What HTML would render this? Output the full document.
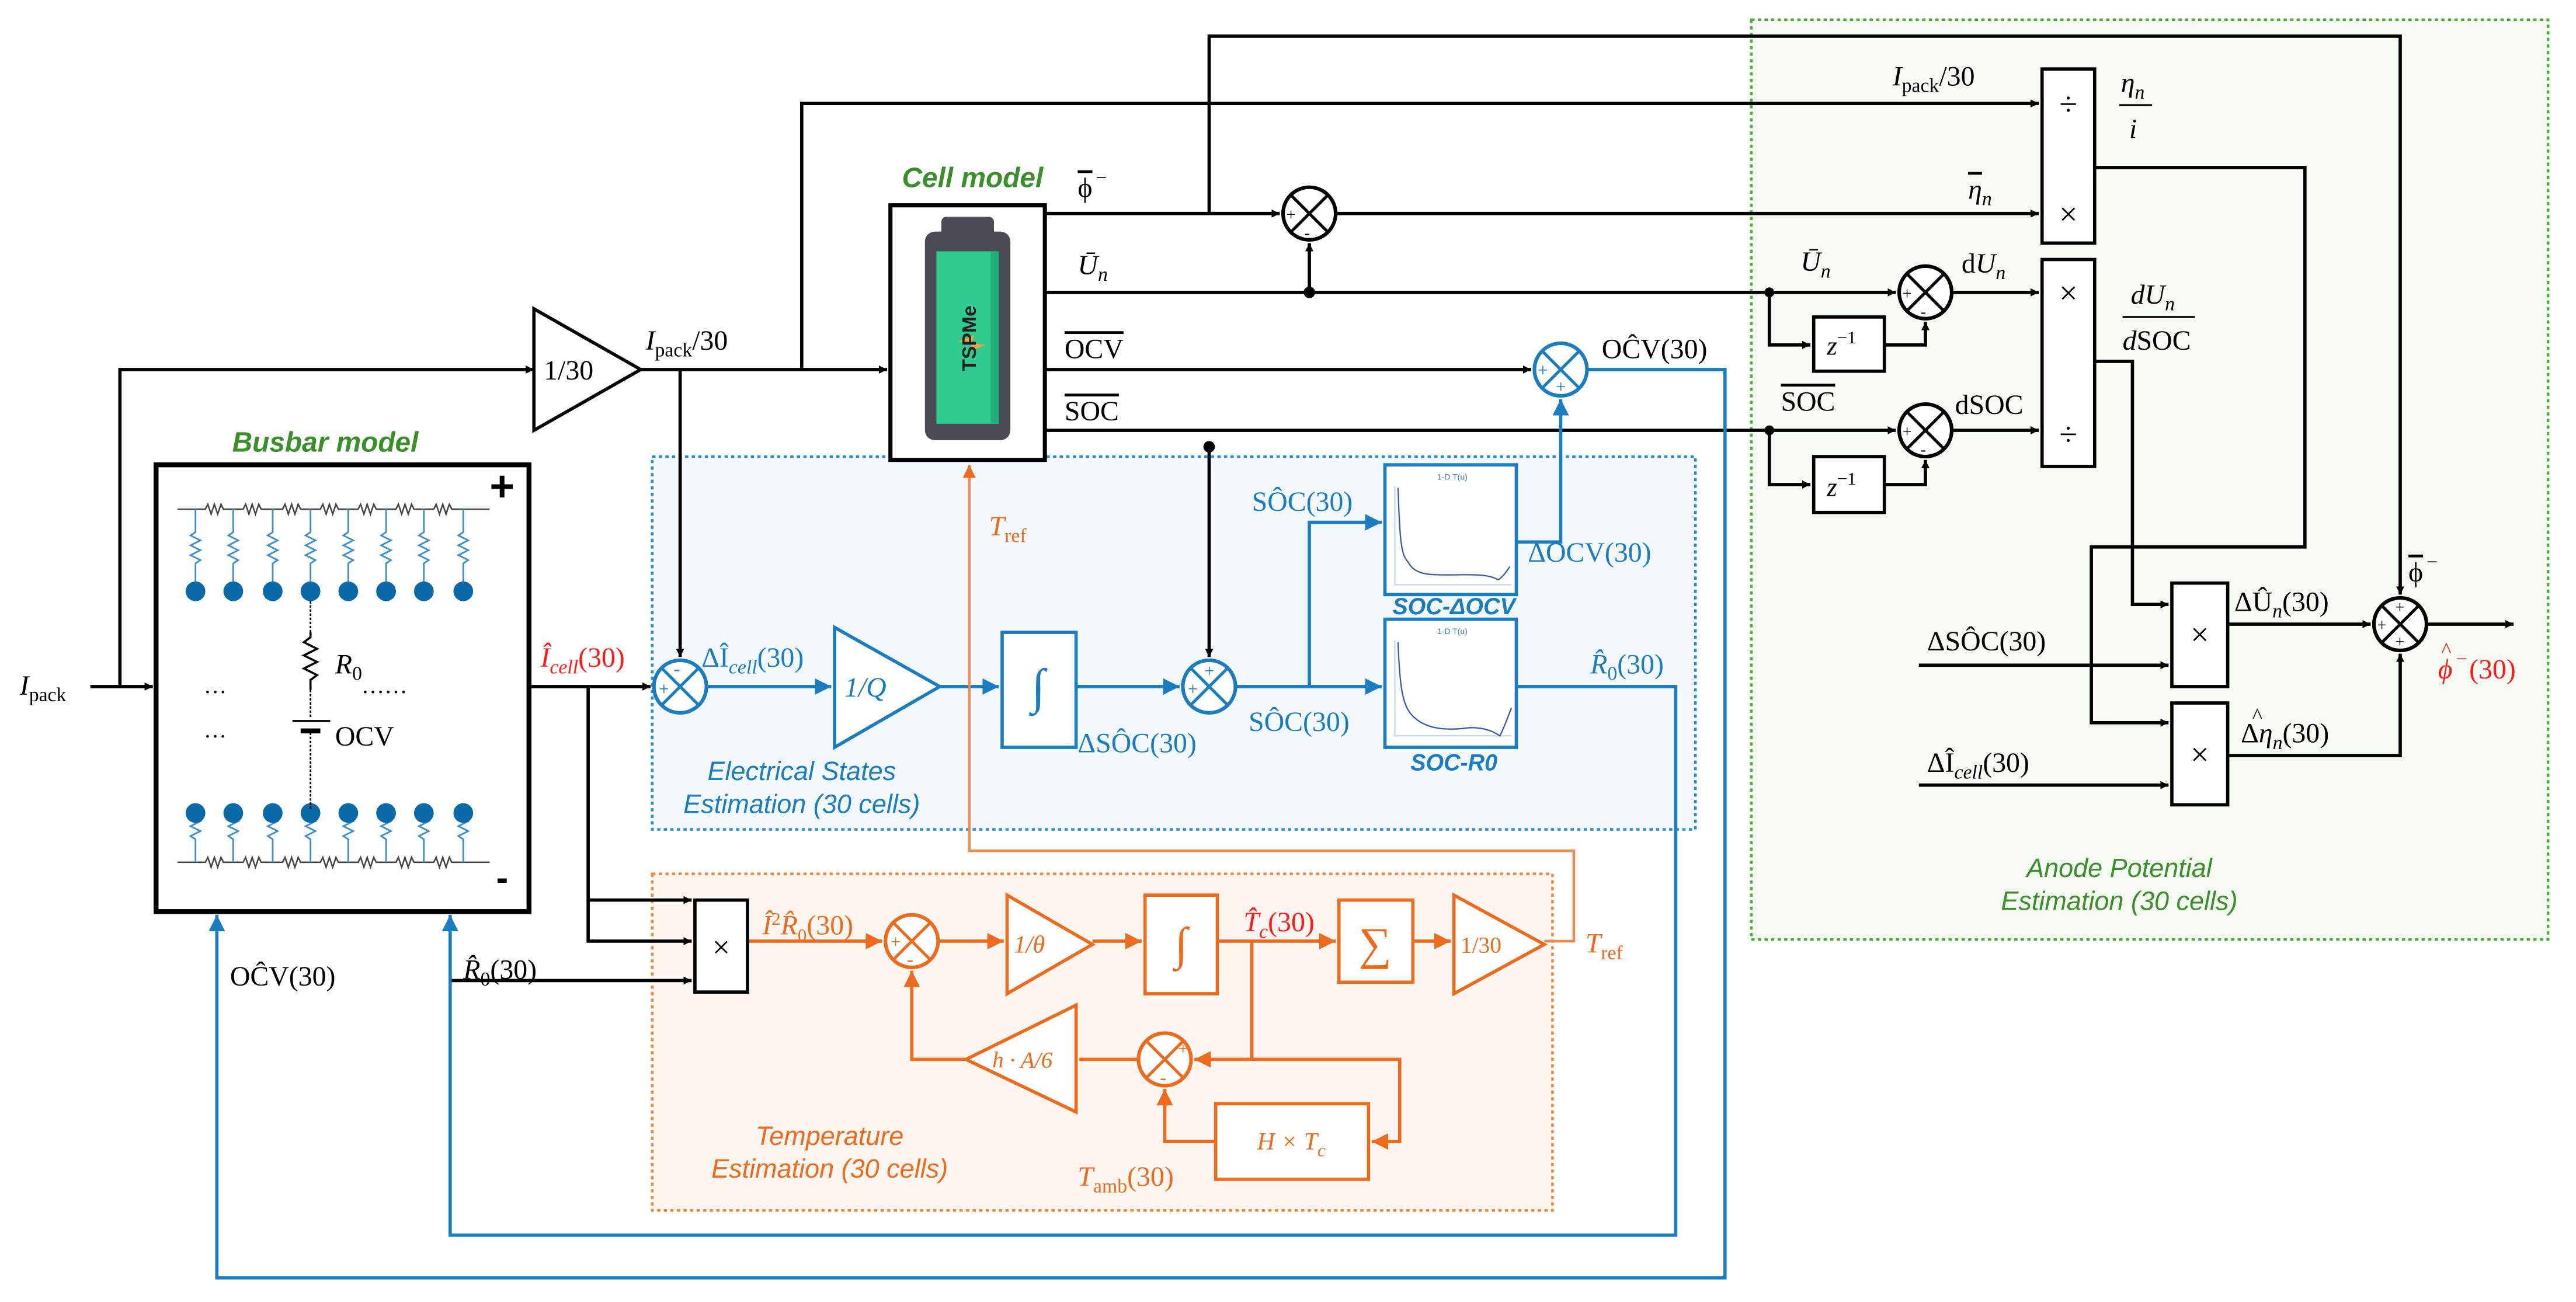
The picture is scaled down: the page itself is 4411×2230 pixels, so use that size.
<!DOCTYPE html>
<html><head><meta charset="utf-8"><style>
html,body{margin:0;padding:0;background:#fff}
svg{display:block}
text{font-family:"Liberation Serif",serif;font-size:17px}
.i{font-style:italic}
.s{font-family:"Liberation Sans",sans-serif}
.ov{text-decoration:overline}
</style></head><body>
<svg width="4411" height="2230" viewBox="0 0 1568 792.7" xmlns="http://www.w3.org/2000/svg">
<defs>
<marker id="ak" viewBox="0 0 10 10" refX="10" refY="5" markerWidth="5" markerHeight="5" orient="auto-start-reverse" markerUnits="userSpaceOnUse"><path d="M0,0L10,5L0,10z" fill="#000"/></marker>
<marker id="ab" viewBox="0 0 10 10" refX="10" refY="5" markerWidth="5" markerHeight="5" orient="auto"><path d="M0,0L10,5L0,10z" fill="#1a7cc1"/></marker>
<marker id="ao" viewBox="0 0 10 10" refX="10" refY="5" markerWidth="5" markerHeight="5" orient="auto"><path d="M0,0L10,5L0,10z" fill="#ee6a1d"/></marker>
<g id="sumk"><circle r="16" fill="#fff" stroke="#000" stroke-width="2.2"/><path d="M-11.3,-11.3L11.3,11.3M11.3,-11.3L-11.3,11.3" stroke="#000" stroke-width="1.8"/></g>
<g id="sumb"><circle r="16" fill="#fff" stroke="#1a7cc1" stroke-width="2.2"/><path d="M-11.3,-11.3L11.3,11.3M11.3,-11.3L-11.3,11.3" stroke="#1a7cc1" stroke-width="1.8"/></g>
<g id="sumo"><circle r="16" fill="#fff" stroke="#ee6a1d" stroke-width="2.2"/><path d="M-11.3,-11.3L11.3,11.3M11.3,-11.3L-11.3,11.3" stroke="#ee6a1d" stroke-width="1.8"/></g>
<g id="leg"><path d="M0,0V14l-3,2 6,3-6,3 6,3-6,3 6,3-3,2V50" fill="none" stroke="#3d8ed0" stroke-width="1"/><circle cx="0" cy="50" r="6" fill="#0a6aa8"/></g>
<g id="legd"><path d="M0,0V-14l-3,-2 6,-3-6,-3 6,-3-6,-3 6,-3-3,-2V-30" fill="none" stroke="#3d8ed0" stroke-width="1"/><circle cx="0" cy="-30" r="6" fill="#0a6aa8"/></g>
<path id="zz" d="M0,0h4l1.5,-3 2,6 2,-6 2,6 2,-6 1.5,3h4" fill="none" stroke="#444" stroke-width="0.9"/>
</defs>
<rect width="1568" height="793" fill="#fff"/>

<rect x="1066" y="12" width="485" height="560" fill="#f5faf3" stroke="#4caf37" stroke-width="1.6" stroke-dasharray="2,2"/>
<rect x="397" y="278" width="635" height="227" fill="#f2f8fc" stroke="#2a8fd6" stroke-width="1.6" stroke-dasharray="2,2"/>
<rect x="397" y="532" width="548" height="205" fill="#fdf5ef" stroke="#f08a3c" stroke-width="1.6" stroke-dasharray="2,2"/>

<g stroke="#000" stroke-width="2" fill="none">
<path d="M55,418H93" marker-end="url(#ak)"/>
<path d="M73,418V225H325" marker-end="url(#ak)"/>
<path d="M390,225H540" marker-end="url(#ak)"/>
<path d="M414,225V400" marker-end="url(#ak)"/>
<path d="M488,225V63H1241" marker-end="url(#ak)"/>
<path d="M636,130H779" marker-end="url(#ak)"/>
<path d="M813,130H1241" marker-end="url(#ak)"/>
<path d="M736,130V22H1461V362" marker-end="url(#ak)"/>
<path d="M636,178H1154" marker-end="url(#ak)"/>
<path d="M797,178V148" marker-end="url(#ak)"/>
<path d="M1077,178V210H1102" marker-end="url(#ak)"/>
<path d="M1147,210H1172V196" marker-end="url(#ak)"/>
<path d="M1188,178H1241" marker-end="url(#ak)"/>
<path d="M636,225H932" marker-end="url(#ak)"/>
<path d="M636,262H1154" marker-end="url(#ak)"/>
<path d="M1077,262V295H1102" marker-end="url(#ak)"/>
<path d="M1147,295H1172V280" marker-end="url(#ak)"/>
<path d="M1188,262H1241" marker-end="url(#ak)"/>
<path d="M736,272V400" marker-end="url(#ak)"/>
<path d="M1275,102H1403V333H1273V440H1320" marker-end="url(#ak)"/>
<path d="M1275,220H1298V368H1320" marker-end="url(#ak)"/>
<path d="M1168,405H1320" marker-end="url(#ak)"/>
<path d="M1168,478H1320" marker-end="url(#ak)"/>
<path d="M1356,380H1443" marker-end="url(#ak)"/>
<path d="M1356,460H1461V398" marker-end="url(#ak)"/>
<path d="M1477,380H1530" marker-end="url(#ak)"/>
<path d="M322,418H396" marker-end="url(#ak)"/>
<path d="M358,418V548H421" marker-end="url(#ak)"/>
<path d="M358,548V573H421" marker-end="url(#ak)"/>
<path d="M274,597H421" marker-end="url(#ak)"/>
</g>
<circle cx="797" cy="178" r="3.5"/><circle cx="1077" cy="178" r="3"/><circle cx="1077" cy="262" r="3"/><circle cx="736" cy="272" r="3.5"/>

<g stroke="#1a7cc1" stroke-width="2" fill="none">
<path d="M430,418H506" marker-end="url(#ab)"/>
<path d="M572,418H608" marker-end="url(#ab)"/>
<path d="M655,418H718" marker-end="url(#ab)"/>
<path d="M752,418H841" marker-end="url(#ab)"/>
<path d="M797,418V318H841" marker-end="url(#ab)"/>
<path d="M923,330H950V243" marker-end="url(#ab)"/>
<path d="M966,225H1050V778H132V557" marker-end="url(#ab)"/>
<path d="M923,418H1020V752H274V557" marker-end="url(#ab)"/>
</g>
<g stroke="#ee6a1d" stroke-width="2" fill="none">
<path d="M455,573H537" marker-end="url(#ao)"/>
<path d="M571,573H611" marker-end="url(#ao)"/>
<path d="M665,573H695" marker-end="url(#ao)"/>
<path d="M741,573H813" marker-end="url(#ao)"/>
<path d="M860,573H883" marker-end="url(#ao)"/>
<path d="M762,573V645H727" marker-end="url(#ao)"/>
<path d="M762,645H852V695H835" marker-end="url(#ao)"/>
<path d="M740,695H709V663" marker-end="url(#ao)"/>
<path d="M693,645H657"/>
<path d="M588,645H555V591" marker-end="url(#ao)"/>
</g>
<path d="M940,573H958V518H590V283" stroke="#ee8a50" stroke-width="1.6" fill="none" marker-end="url(#ao)"/>

<rect x="95" y="283" width="227" height="272" fill="#fff" stroke="#000" stroke-width="3"/>
<text x="198" y="275" text-anchor="middle" class="s i" style="font-size:17px;font-weight:bold;fill:#3a8f2a">Busbar model</text>
<g>
<path d="M108,310H298M108,525H298" stroke="#444" stroke-width="0.9"/>
<g fill="#fff"><rect x="123" y="305" width="14" height="10"/><rect x="146" y="305" width="14" height="10"/><rect x="170" y="305" width="14" height="10"/><rect x="193" y="305" width="14" height="10"/><rect x="216" y="305" width="14" height="10"/><rect x="239" y="305" width="14" height="10"/><rect x="262" y="305" width="14" height="10"/>
<rect x="123" y="520" width="14" height="10"/><rect x="146" y="520" width="14" height="10"/><rect x="170" y="520" width="14" height="10"/><rect x="193" y="520" width="14" height="10"/><rect x="216" y="520" width="14" height="10"/><rect x="239" y="520" width="14" height="10"/><rect x="262" y="520" width="14" height="10"/></g>
<use href="#zz" x="121" y="310"/><use href="#zz" x="144" y="310"/><use href="#zz" x="168" y="310"/><use href="#zz" x="191" y="310"/><use href="#zz" x="214" y="310"/><use href="#zz" x="237" y="310"/><use href="#zz" x="260" y="310"/>
<use href="#zz" x="121" y="525"/><use href="#zz" x="144" y="525"/><use href="#zz" x="168" y="525"/><use href="#zz" x="191" y="525"/><use href="#zz" x="214" y="525"/><use href="#zz" x="237" y="525"/><use href="#zz" x="260" y="525"/>
<use href="#leg" x="119" y="310"/><use href="#leg" x="142" y="310"/><use href="#leg" x="166" y="310"/><use href="#leg" x="189" y="310"/><use href="#leg" x="212" y="310"/><use href="#leg" x="235" y="310"/><use href="#leg" x="258" y="310"/><use href="#leg" x="282" y="310"/>
<use href="#legd" x="119" y="525"/><use href="#legd" x="142" y="525"/><use href="#legd" x="166" y="525"/><use href="#legd" x="189" y="525"/><use href="#legd" x="212" y="525"/><use href="#legd" x="235" y="525"/><use href="#legd" x="258" y="525"/><use href="#legd" x="282" y="525"/>
<path d="M189,366V385M189,420V437M189,446V493" stroke="#000" stroke-width="1" stroke-dasharray="1.5,1"/>
<path d="M189,385v3l-4,3 8,4-8,4 8,4-8,4 8,4-4,3v6" fill="none" stroke="#000" stroke-width="1.3"/>
<path d="M178,439H201" stroke="#000" stroke-width="1.3"/><path d="M183,445H195" stroke="#000" stroke-width="3"/>
<text x="204" y="410" class="i" style="font-size:17px">R<tspan dy="4" style="font-size:12px;font-style:normal">0</tspan></text>
<text x="204" y="454" style="font-size:17px">OCV</text>
<text x="124" y="422" style="font-size:14px">…</text><text x="124" y="449" style="font-size:14px">…</text><text x="220" y="422" style="font-size:14px">……</text>
<text x="298" y="305" style="font-size:26px;font-weight:bold" class="s">+</text>
<text x="302" y="542" style="font-size:22px;font-weight:bold" class="s">-</text>
</g>

<rect x="542" y="125" width="94" height="155" fill="#fff" stroke="#000" stroke-width="2.5"/>
<text x="592" y="114" text-anchor="middle" class="s i" style="font-size:17px;font-weight:bold;fill:#3a8f2a">Cell model</text>
<rect x="573" y="132" width="32" height="14" rx="3" fill="#4a4b55"/>
<rect x="563" y="141" width="52" height="127" rx="6" fill="#4a4b55"/>
<rect x="570" y="153" width="38" height="105" fill="#2fcc90"/>
<rect x="603" y="153" width="5" height="105" fill="#22b07a"/>
<path d="M583,208l10,-4 -3,10 10,-4" fill="#f5a13a"/>
<text transform="translate(594,206) rotate(-90)" text-anchor="middle" class="s" style="font-size:12px;font-weight:bold;fill:#222">TSPMe</text>

<path d="M325,188L390,225L325,262Z" fill="#fff" stroke="#000" stroke-width="2"/>
<text x="331" y="231" style="font-size:17px">1/30</text>
<text x="393" y="213" style="font-size:17px"><tspan class="i">I</tspan><tspan dy="4" style="font-size:12px">pack</tspan><tspan dy="-4">/30</tspan></text>
<text x="12" y="423" style="font-size:17px"><tspan class="i">I</tspan><tspan dy="4" style="font-size:12px">pack</tspan></text>

<use href="#sumk" x="797" y="130"/><text x="783" y="134" style="font-size:10px">+</text><text x="794" y="145" style="font-size:10px">-</text>
<use href="#sumk" x="1172" y="178"/><text x="1158" y="182" style="font-size:10px">+</text><text x="1169" y="193" style="font-size:10px">-</text>
<use href="#sumk" x="1172" y="262"/><text x="1158" y="266" style="font-size:10px">+</text><text x="1169" y="277" style="font-size:10px">-</text>
<use href="#sumk" x="1461" y="380"/><text x="1447" y="384" style="font-size:10px">+</text><text x="1458" y="373" style="font-size:10px">+</text><text x="1458" y="394" style="font-size:10px">+</text>
<use href="#sumb" x="950" y="225"/><text x="936" y="229" style="font-size:11px;fill:#1a7cc1">+</text><text x="947" y="239" style="font-size:11px;fill:#1a7cc1">+</text>
<use href="#sumb" x="414" y="418"/><text x="401" y="423" style="font-size:11px;fill:#1a7cc1">+</text><text x="410" y="411" style="font-size:12px;fill:#1a7cc1">-</text>
<use href="#sumb" x="736" y="418"/><text x="723" y="423" style="font-size:11px;fill:#1a7cc1">+</text><text x="733" y="412" style="font-size:11px;fill:#1a7cc1">+</text>
<use href="#sumo" x="555" y="573"/><text x="542" y="577" style="font-size:11px;fill:#ee6a1d">+</text><text x="552" y="588" style="font-size:12px;fill:#ee6a1d">-</text>
<use href="#sumo" x="709" y="645"/><text x="717" y="642" style="font-size:11px;fill:#ee6a1d">+</text><text x="706" y="660" style="font-size:12px;fill:#ee6a1d">-</text>

<rect x="1104" y="193" width="43" height="33" fill="#fff" stroke="#000" stroke-width="2"/><text x="1112" y="216" class="i" style="font-size:16px">z<tspan dy="-7" style="font-size:11px;font-style:normal">−1</tspan></text>
<rect x="1104" y="278" width="43" height="34" fill="#fff" stroke="#000" stroke-width="2"/><text x="1112" y="302" class="i" style="font-size:16px">z<tspan dy="-7" style="font-size:11px;font-style:normal">−1</tspan></text>

<rect x="1243" y="42" width="32" height="106" fill="#fff" stroke="#000" stroke-width="2"/><text x="1259" y="70" text-anchor="middle" style="font-size:20px">÷</text><text x="1259" y="137" text-anchor="middle" style="font-size:20px">×</text>
<rect x="1243" y="158" width="32" height="126" fill="#fff" stroke="#000" stroke-width="2"/><text x="1259" y="185" text-anchor="middle" style="font-size:20px">×</text><text x="1259" y="271" text-anchor="middle" style="font-size:20px">÷</text>
<rect x="1322" y="355" width="34" height="63" fill="#fff" stroke="#000" stroke-width="2"/><text x="1339" y="393" text-anchor="middle" style="font-size:20px">×</text>
<rect x="1322" y="428" width="34" height="62" fill="#fff" stroke="#000" stroke-width="2"/><text x="1339" y="466" text-anchor="middle" style="font-size:20px">×</text>
<rect x="423" y="548" width="32" height="56" fill="#fff" stroke="#000" stroke-width="2"/><text x="439" y="583" text-anchor="middle" style="font-size:19px">×</text>

<path d="M508,382L572,418L508,455Z" fill="#fff" stroke="#1a7cc1" stroke-width="2"/>
<text x="514" y="424" class="i" style="font-size:17px;fill:#1a7cc1">1/Q</text>
<rect x="610" y="385" width="45" height="70" fill="#fff" stroke="#1a7cc1" stroke-width="2"/>
<text x="632" y="428" text-anchor="middle" style="font-size:30px;fill:#1a7cc1">∫</text>
<g>
<rect x="843" y="283" width="80" height="79" fill="#fff" stroke="#1a7cc1" stroke-width="2"/>
<text x="884" y="292" text-anchor="middle" class="s" style="font-size:5px;fill:#3a6fb0">1-D T(u)</text>
<path d="M849,296V356H920" stroke="#c8d4ea" stroke-width="0.8" fill="none"/>
<path d="M851,297C852,330 853,338 857,342C861,350 870,350 880,350C895,350 905,349 912,353C915,351 917,348 919,345" stroke="#3458a8" stroke-width="0.8" fill="none"/>
<rect x="843" y="377" width="80" height="78" fill="#fff" stroke="#1a7cc1" stroke-width="2"/>
<text x="884" y="386" text-anchor="middle" class="s" style="font-size:5px;fill:#3a6fb0">1-D T(u)</text>
<path d="M849,390V448H920" stroke="#c8d4ea" stroke-width="0.8" fill="none"/>
<path d="M851,391C852,420 854,430 860,436C868,444 880,445 895,443C905,443 910,446 913,448C916,442 918,436 920,431" stroke="#3458a8" stroke-width="0.8" fill="none"/>
</g>
<text x="885" y="374" text-anchor="middle" class="s i" style="font-size:14px;font-weight:bold;fill:#1a7cc1">SOC-ΔOCV</text>
<text x="885" y="469" text-anchor="middle" class="s i" style="font-size:14px;font-weight:bold;fill:#1a7cc1">SOC-R0</text>

<path d="M613,545L665,575L613,605Z" fill="#fff" stroke="#ee6a1d" stroke-width="2"/>
<text x="617" y="580" class="i" style="font-size:15px;fill:#ee6a1d">1/θ</text>
<rect x="697" y="545" width="44" height="60" fill="#fff" stroke="#ee6a1d" stroke-width="2"/>
<text x="719" y="584" text-anchor="middle" style="font-size:28px;fill:#ee6a1d">∫</text>
<rect x="815" y="548" width="45" height="50" fill="#fff" stroke="#ee6a1d" stroke-width="2"/>
<text x="837" y="584" text-anchor="middle" style="font-size:28px;fill:#ee6a1d">∑</text>
<path d="M885,545L940,575L885,605Z" fill="#fff" stroke="#ee6a1d" stroke-width="2"/>
<text x="889" y="580" style="font-size:14px;fill:#ee6a1d">1/30</text>
<path d="M655,612L588,645L655,677Z" fill="#fff" stroke="#ee6a1d" stroke-width="2"/>
<text x="604" y="650" class="i" style="font-size:14px;fill:#ee6a1d">h · A/6</text>
<rect x="740" y="672" width="93" height="46" fill="#fff" stroke="#ee6a1d" stroke-width="2"/>
<text x="786" y="700" text-anchor="middle" class="i" style="font-size:15px;fill:#ee6a1d">H × T<tspan dy="4" style="font-size:11px">c</tspan></text>

<g style="font-size:17px">
<text x="656" y="120" class="ov">ϕ</text><text x="667" y="112" style="font-size:12px">−</text>
<text x="656" y="167" class="i">Ū<tspan dy="4" style="font-size:12px">n</tspan></text>
<text x="648" y="218" class="ov">OCV</text>
<text x="648" y="256" class="ov">SOC</text>
<text x="1152" y="52"><tspan class="i">I</tspan><tspan dy="4" style="font-size:12px">pack</tspan><tspan dy="-4">/30</tspan></text>
<text x="1291" y="56" class="i">η<tspan dy="4" style="font-size:12px">n</tspan></text>
<path d="M1290,64H1310" stroke="#000" stroke-width="1.2"/>
<text x="1296" y="84" class="i">i</text>
<text x="1198" y="121" class="i"><tspan class="ov">η</tspan><tspan dy="4" style="font-size:12px">n</tspan></text>
<text x="1096" y="165" class="i">Ū<tspan dy="4" style="font-size:12px">n</tspan></text>
<text x="1194" y="166">d<tspan class="i">U</tspan><tspan dy="4" class="i" style="font-size:12px">n</tspan></text>
<text x="1297" y="185" class="i">dU<tspan dy="4" style="font-size:12px">n</tspan></text>
<path d="M1292,193H1336" stroke="#000" stroke-width="1.2"/>
<text x="1292" y="213"><tspan class="i">d</tspan>SOC</text>
<text x="1084" y="250" class="ov">SOC</text>
<text x="1190" y="252">dSOC</text>
<text x="1466" y="354" class="ov">ϕ</text><text x="1477" y="346" style="font-size:12px">−</text>
<text x="1360" y="372">ΔÛ<tspan dy="4" class="i" style="font-size:12px">n</tspan><tspan dy="-4">(30)</tspan></text>
<text x="1173" y="396">ΔSÔC(30)</text>
<text x="1364" y="452">Δ<tspan class="i">η</tspan><tspan dy="4" class="i" style="font-size:12px">n</tspan><tspan dy="-4">(30)</tspan></text>
<text x="1371" y="440" style="font-size:13px">^</text>
<text x="1173" y="470">ΔÎ<tspan dy="4" class="i" style="font-size:12px">cell</tspan><tspan dy="-4">(30)</tspan></text>
<text x="975" y="218">OĈV(30)</text>
<text x="140" y="600">OĈV(30)</text>
<text x="282" y="596" class="i">R̂<tspan dy="4" style="font-size:12px;font-style:normal">0</tspan><tspan dy="-4" style="font-style:normal">(30)</tspan></text>
</g>
<g style="font-size:17px;fill:#ff1a1a">
<text x="329" y="406" class="i">Î<tspan dy="4" style="font-size:12px">cell</tspan><tspan dy="-4" style="font-style:normal">(30)</tspan></text>
<text x="1484" y="413" class="i">ϕ</text><text x="1486" y="400" style="font-size:13px">^</text><text x="1495" y="405" style="font-size:12px">−</text><text x="1503" y="413">(30)</text>
</g>
<g style="font-size:17px;fill:#1a7cc1">
<text x="427" y="406">ΔÎ<tspan dy="4" class="i" style="font-size:12px">cell</tspan><tspan dy="-4">(30)</tspan></text>
<text x="656" y="458">ΔSÔC(30)</text>
<text x="760" y="445">SÔC(30)</text>
<text x="762" y="311">SÔC(30)</text>
<text x="930" y="342">ΔOCV(30)</text>
<text x="968" y="410" class="i">R̂<tspan dy="4" style="font-size:12px;font-style:normal">0</tspan><tspan dy="-4" style="font-style:normal">(30)</tspan></text>
<text x="488" y="475" text-anchor="middle" class="s i" style="font-size:16px">Electrical States</text>
<text x="488" y="495" text-anchor="middle" class="s i" style="font-size:16px">Estimation (30 cells)</text>
</g>
<g style="font-size:17px;fill:#ee6a1d">
<text x="602" y="326" class="i">T<tspan dy="4" style="font-size:12px;font-style:normal">ref</tspan></text>
<text x="965" y="580" class="i">T<tspan dy="4" style="font-size:12px;font-style:normal">ref</tspan></text>
<text x="464" y="569" class="i">Î<tspan dy="-6" style="font-size:11px;font-style:normal">2</tspan><tspan dy="6">R̂</tspan><tspan dy="4" style="font-size:11px;font-style:normal">0</tspan><tspan dy="-4" style="font-style:normal">(30)</tspan></text>
<text x="656" y="722" class="i">T<tspan dy="4" style="font-size:12px;font-style:normal">amb</tspan><tspan dy="-4" style="font-style:normal">(30)</tspan></text>
<text x="505" y="697" text-anchor="middle" class="s i" style="font-size:16px">Temperature</text>
<text x="505" y="717" text-anchor="middle" class="s i" style="font-size:16px">Estimation (30 cells)</text>
</g>
<text x="757" y="567" class="i" style="font-size:17px;fill:#ff1a1a">T̂<tspan dy="4" style="font-size:12px">c</tspan><tspan dy="-4" style="font-style:normal">(30)</tspan></text>
<text x="1290" y="534" text-anchor="middle" class="s i" style="font-size:16px;fill:#3a8f2a">Anode Potential</text>
<text x="1290" y="554" text-anchor="middle" class="s i" style="font-size:16px;fill:#3a8f2a">Estimation (30 cells)</text>
</svg>
</body></html>
